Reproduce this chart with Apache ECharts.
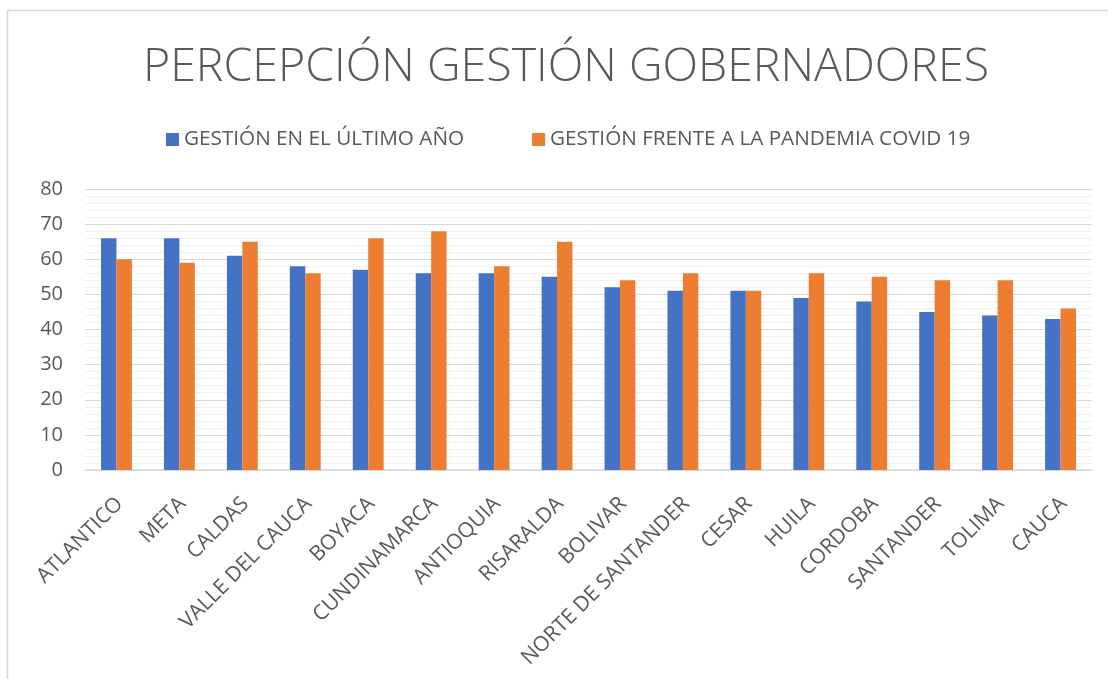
<!DOCTYPE html>
<html>
<head>
<meta charset="utf-8">
<script src="https://cdn.jsdelivr.net/npm/echarts@6/dist/echarts.min.js"></script>
<style>
html,body{margin:0;padding:0;background:#fff;}
#chart{width:1108px;height:679px;}
</style>
</head>
<body>
<div id="chart"></div>
<script>
var categories = ['ATLANTICO','META','CALDAS','VALLE DEL CAUCA','BOYACA','CUNDINAMARCA','ANTIOQUIA','RISARALDA','BOLIVAR','NORTE DE SANTANDER','CESAR','HUILA','CORDOBA','SANTANDER','TOLIMA','CAUCA'];
var ultimoAno = [66,66,61,58,57,56,56,55,52,51,51,49,48,45,44,43];
var pandemia = [60,59,65,56,66,68,58,65,54,56,51,56,55,54,54,46];
var seriesNames = ['GESTIÓN EN EL ÚLTIMO AÑO','GESTIÓN FRENTE A LA PANDEMIA COVID 19'];
var yTicks = [0,10,20,30,40,50,60,70,80];

var FONT = '"Open Sans", sans-serif';
var chart = echarts.init(document.getElementById('chart'));
chart.setOption({
  animation: false,
  backgroundColor: '#fff',
  graphic: [{
    type: 'rect',
    shape: {x: 7.5, y: 10.5, width: 1300, height: 1000},
    style: {fill: 'none', stroke: '#d9d9d9', lineWidth: 1.5},
    silent: true, z: -1
  }],
  title: {
    text: 'PERCEPCIÓN GESTIÓN GOBERNADORES',
    left: 561, textAlign: 'center', top: 39,
    textStyle: {fontFamily: FONT, fontWeight: 300, fontSize: 46.5, color: '#595959'}
  },
  legend: {
    top: 124, left: 161, width: 940,
    itemWidth: 13, itemHeight: 13, itemGap: 68,
    icon: 'rect',
    textStyle: {fontFamily: FONT, fontSize: 20.7, color: '#595959'},
    data: seriesNames
  },
  grid: {left: 85, right: 16, top: 189, bottom: 209, containLabel: false},
  xAxis: {
    type: 'category', data: categories,
    axisLine: {lineStyle: {color: '#d9d9d9', width: 1.5}},
    axisTick: {show: false},
    axisLabel: {rotate: 45, interval: 0, fontFamily: FONT, fontSize: 21, color: '#595959', margin: 19, verticalAlign: 'top', padding: [0, 6, 0, 0]}
  },
  yAxis: {
    type: 'value', min: yTicks[0], max: yTicks[yTicks.length-1], interval: 10,
    axisLine: {show: false}, axisTick: {show: false},
    axisLabel: {fontFamily: FONT, fontSize: 20, color: '#595959', margin: 22},
    splitLine: {lineStyle: {color: '#d9d9d9', width: 1}},
    minorTick: {show: false, splitNumber: 5},
    minorSplitLine: {show: true, lineStyle: {color: '#f0f0f0', width: 1}}
  },
  series: [
    {name: seriesNames[0], type: 'bar', data: ultimoAno, itemStyle: {color: '#4472c4'}, barGap: '0%', barCategoryGap: '51%'},
    {name: seriesNames[1], type: 'bar', data: pandemia, itemStyle: {color: '#ed7d31'}, barGap: '0%', barCategoryGap: '51%'}
  ]
});
</script>
</body>
</html>
